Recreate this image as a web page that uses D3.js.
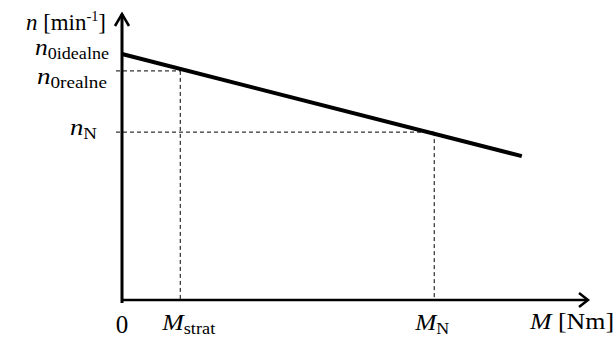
<!DOCTYPE html>
<html>
<head>
<meta charset="utf-8">
<script src="https://cdn.jsdelivr.net/npm/d3@7"></script>
<style>
  body { margin: 0; background: #fff; }
  svg text { font-family: 'Liberation Serif', Tinos, 'Times New Roman', Times, serif; fill: #000; }
</style>
</head>
<body>
<div id="chart"></div>
<script>
// characteristic n(M): two end points of the straight line
const lineM = [0, 8.58];
const lineN = [8.6, 5.03];

// marked points
const markM = [1.25, 6.70];      // M_strat, M_N
const markN = [8.01, 5.87];      // n_0realne, n_N
const n0ideal = 8.6;

const width = 615, height = 337;

const x = d3.scaleLinear().domain([0, 10]).range([122, 588]);
const y = d3.scaleLinear().domain([0, 10]).range([300, 14]);

const svg = d3.select("#chart")
    .append("svg")
    .attr("width", width)
    .attr("height", height);

// dashed guide lines
markM.forEach(function (m, i) {
    svg.append("line")
        .attr("x1", x(0) - 6).attr("x2", x(m))
        .attr("y1", y(markN[i])).attr("y2", y(markN[i]))
        .attr("stroke", "#000").attr("stroke-width", 1)
        .attr("stroke-dasharray", "4,3");
    svg.append("line")
        .attr("x1", x(m)).attr("x2", x(m))
        .attr("y1", y(markN[i])).attr("y2", y(0))
        .attr("stroke", "#000").attr("stroke-width", 1)
        .attr("stroke-dasharray", "4,3");
});

// axes
svg.append("line")
    .attr("x1", x(0)).attr("x2", x(0))
    .attr("y1", y(0) + 3).attr("y2", y(10))
    .attr("stroke", "#000").attr("stroke-width", 3);
svg.append("path")
    .attr("d", `M${x(0) - 7},${y(10) + 12} L${x(0)},${y(10)} L${x(0) + 7},${y(10) + 12}`)
    .attr("fill", "none").attr("stroke", "#000").attr("stroke-width", 2.5);

svg.append("line")
    .attr("x1", x(0)).attr("x2", x(10) - 1)
    .attr("y1", y(0)).attr("y2", y(0))
    .attr("stroke", "#000").attr("stroke-width", 2.5);
svg.append("path")
    .attr("d", `M${x(10) - 9},${y(0) - 7} L${x(10)},${y(0)} L${x(10) - 9},${y(0) + 7}`)
    .attr("fill", "none").attr("stroke", "#000").attr("stroke-width", 2.5);

// characteristic
svg.append("path")
    .datum(d3.zip(lineM, lineN))
    .attr("d", d3.line().x(d => x(d[0])).y(d => y(d[1])))
    .attr("fill", "none")
    .attr("stroke", "#000")
    .attr("stroke-width", 4);

// labels: italic symbol + upright subscript, stretched to the widths in the original
function label(px, py, len, sym, sub, unit) {
    const t = svg.append("text")
        .attr("x", px).attr("y", py)
        .attr("textLength", len)
        .attr("lengthAdjust", "spacingAndGlyphs")
        .style("font-size", "24px");
    t.append("tspan").style("font-style", "italic").text(sym);
    if (sub) {
        t.append("tspan").attr("dy", 4).style("font-size", "17px").text(sub);
    }
    if (unit) {
        t.append("tspan").text(unit);
    }
    return t;
}

// y axis title with superscript
const yt = svg.append("text")
    .attr("x", 26).attr("y", 30)
    .attr("textLength", 80)
    .attr("lengthAdjust", "spacingAndGlyphs")
    .style("font-size", "24px");
yt.append("tspan").style("font-style", "italic").text("n");
yt.append("tspan").text(" [min");
yt.append("tspan").attr("dy", -9).style("font-size", "15px").text("-1");
yt.append("tspan").attr("dy", 9).text("]");

label(35, y(n0ideal) + 1, 74, "n", "0idealne");
label(37, y(markN[0]) + 13, 70, "n", "0realne");
label(70, y(markN[1]) + 3, 27, "n", "N");

label(x(markM[0]) - 18, 330, 53, "M", "strat");
label(x(markM[1]) - 19, 330, 34, "M", "N");
label(530, 329, 84, "M", null, " [Nm]");

svg.append("text")
    .attr("x", x(0)).attr("y", 333)
    .attr("text-anchor", "middle")
    .style("font-size", "25px")
    .text("0");
</script>
</body>
</html>
